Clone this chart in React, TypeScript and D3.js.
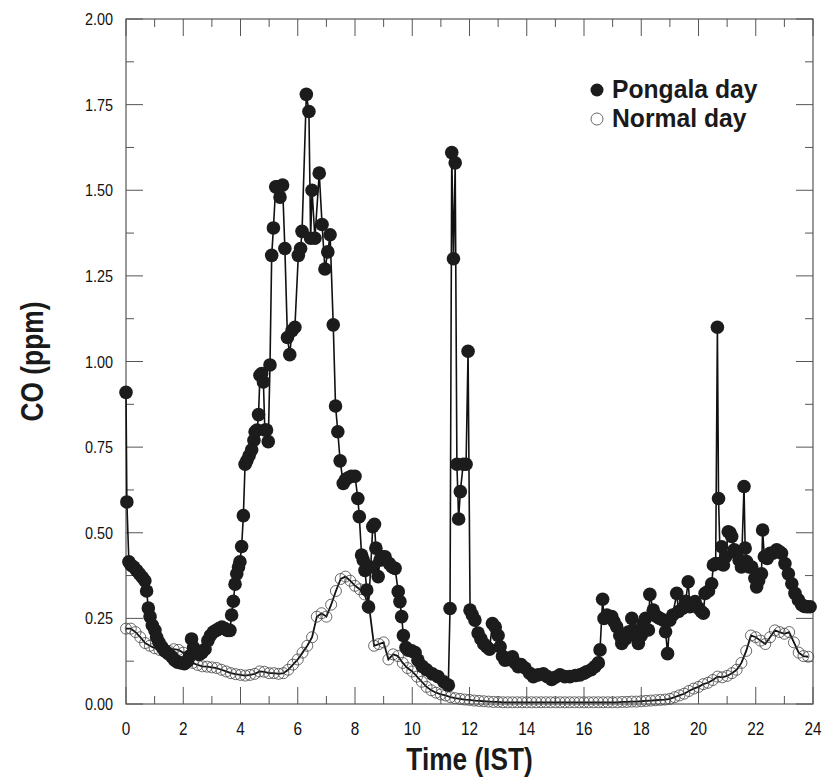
import React from 'react';
import * as d3 from 'd3';

// Pongala day: time (h) and CO (ppm)
const pongalaTime = [
  0.0, 0.03, 0.1, 0.18, 0.27, 0.37, 0.47, 0.57, 0.66, 0.72, 0.78, 0.84, 0.92, 1.01, 1.07, 1.15, 1.25, 1.36, 1.48, 1.6,
  1.7, 1.8, 1.92, 2.04, 2.15, 2.22, 2.29, 2.36, 2.45, 2.55, 2.65, 2.76, 2.86, 2.95, 3.05, 3.15, 3.25, 3.35, 3.45, 3.55,
  3.63, 3.69, 3.75, 3.81, 3.87, 3.93, 3.98, 4.04, 4.1, 4.16, 4.22, 4.3, 4.39, 4.47, 4.51, 4.58, 4.63, 4.68, 4.74, 4.8,
  4.85, 4.91, 4.97, 5.03, 5.09, 5.15, 5.23, 5.31, 5.38, 5.47, 5.55, 5.64, 5.72, 5.8, 5.9, 6.02, 6.1, 6.15, 6.3, 6.39,
  6.45, 6.5, 6.6, 6.75, 6.85, 6.95, 7.05, 7.13, 7.24, 7.32, 7.4, 7.48, 7.59, 7.67, 7.75, 7.87, 8.0, 8.1, 8.15, 8.23,
  8.29, 8.35, 8.41, 8.47, 8.55, 8.62, 8.68, 8.73, 8.81, 8.87, 8.95, 9.05, 9.2, 9.3, 9.4, 9.51, 9.57, 9.63, 9.69, 9.78,
  9.86, 9.98, 10.1, 10.2, 10.35, 10.5, 10.7, 10.9, 11.1, 11.26, 11.32, 11.38, 11.44, 11.5, 11.56, 11.62, 11.68, 11.78, 11.88, 11.95,
  12.02, 12.1, 12.19, 12.3, 12.4, 12.5, 12.6, 12.7, 12.8, 12.9, 13.0, 13.07, 13.15, 13.24, 13.35, 13.5, 13.6, 13.7, 13.8, 13.94,
  14.1, 14.23, 14.4, 14.58, 14.72, 14.87, 15.0, 15.16, 15.33, 15.51, 15.7, 15.86, 16.0, 16.09, 16.25, 16.38, 16.5, 16.56, 16.65, 16.7,
  16.8, 16.97, 17.05, 17.14, 17.25, 17.32, 17.45, 17.55, 17.67, 17.72, 17.82, 17.9, 18.0, 18.07, 18.15, 18.25, 18.3, 18.42, 18.55, 18.65,
  18.77, 18.85, 18.92, 19.0, 19.1, 19.24, 19.3, 19.45, 19.55, 19.64, 19.7, 19.8, 19.88, 20.0, 20.1, 20.17, 20.23, 20.35, 20.46, 20.52,
  20.6, 20.66, 20.7, 20.76, 20.81, 20.87, 20.95, 21.04, 21.1, 21.16, 21.25, 21.33, 21.42, 21.5, 21.59, 21.63, 21.68, 21.77, 21.86, 21.97,
  22.03, 22.1, 22.2, 22.24, 22.3, 22.4, 22.5, 22.6, 22.73, 22.82, 22.9, 23.02, 23.14, 23.26, 23.37, 23.49, 23.6, 23.7, 23.8, 23.9,
];
const pongalaCO = [
  0.91, 0.59, 0.415, 0.405, 0.4, 0.39, 0.38, 0.37, 0.36, 0.33, 0.28, 0.255, 0.23, 0.215, 0.195, 0.18, 0.167, 0.155, 0.147, 0.138,
  0.128, 0.122, 0.12, 0.118, 0.125, 0.14, 0.19, 0.165, 0.15, 0.145, 0.15, 0.16, 0.185, 0.2, 0.21, 0.215, 0.22, 0.225, 0.22, 0.215,
  0.215, 0.26, 0.3, 0.35, 0.38, 0.4, 0.415, 0.46, 0.55, 0.7, 0.71, 0.725, 0.742, 0.77, 0.795, 0.8, 0.845, 0.96, 0.965, 0.94,
  0.8, 0.8, 0.766, 0.99, 1.31, 1.39, 1.51, 1.51, 1.48, 1.515, 1.33, 1.07, 1.02, 1.09, 1.1, 1.31, 1.33, 1.38, 1.78, 1.73,
  1.36, 1.5, 1.36, 1.55, 1.4, 1.27, 1.32, 1.37, 1.107, 0.87, 0.795, 0.71, 0.644, 0.655, 0.66, 0.665, 0.665, 0.6, 0.547, 0.435,
  0.42, 0.39, 0.333, 0.284, 0.4, 0.518, 0.525, 0.455, 0.372, 0.42, 0.43, 0.43, 0.41, 0.4, 0.396, 0.328, 0.299, 0.255, 0.2, 0.165,
  0.157, 0.155, 0.15, 0.128, 0.11, 0.1, 0.088, 0.08, 0.065, 0.055, 0.279, 1.61, 1.3, 1.58, 0.7, 0.54, 0.62, 0.7, 0.7, 1.03,
  0.274, 0.26, 0.245, 0.207, 0.19, 0.175, 0.167, 0.16, 0.235, 0.225, 0.2, 0.167, 0.14, 0.128, 0.13, 0.138, 0.12, 0.109, 0.115, 0.105,
  0.09, 0.08, 0.085, 0.088, 0.08, 0.072, 0.078, 0.085, 0.08, 0.08, 0.083, 0.085, 0.09, 0.094, 0.1, 0.109, 0.12, 0.158, 0.306, 0.25,
  0.26, 0.255, 0.24, 0.226, 0.2, 0.177, 0.19, 0.21, 0.25, 0.216, 0.2, 0.177, 0.2, 0.235, 0.25, 0.216, 0.32, 0.274, 0.255, 0.25,
  0.245, 0.211, 0.147, 0.245, 0.26, 0.323, 0.27, 0.28, 0.3, 0.357, 0.284, 0.29, 0.299, 0.28, 0.27, 0.265, 0.323, 0.33, 0.351, 0.406,
  0.41, 1.1, 0.6, 0.41, 0.459, 0.406, 0.43, 0.503, 0.5, 0.489, 0.45, 0.44, 0.42, 0.4, 0.635, 0.455, 0.416, 0.4, 0.4, 0.367,
  0.342, 0.36, 0.38, 0.508, 0.43, 0.425, 0.44, 0.44, 0.45, 0.445, 0.44, 0.41, 0.38, 0.351, 0.323, 0.304, 0.29, 0.285, 0.284, 0.284,
];

// Normal day: 10-minute values from 00:00
const normalStepMinutes = 10;
const normalCO = [
  0.22, 0.22, 0.21, 0.195, 0.178, 0.17, 0.163, 0.158, 0.153, 0.155, 0.16, 0.158, 0.15, 0.135, 0.12, 0.114, 0.11, 0.109, 0.107, 0.105,
  0.1, 0.095, 0.09, 0.087, 0.085, 0.083, 0.085, 0.088, 0.095, 0.094, 0.09, 0.09, 0.088, 0.09, 0.1, 0.115, 0.13, 0.15, 0.17, 0.195,
  0.255, 0.265, 0.255, 0.29, 0.33, 0.365, 0.372, 0.36, 0.345, 0.335, 0.32, 0.28, 0.17, 0.175, 0.18, 0.13, 0.145, 0.14, 0.12, 0.105,
  0.095, 0.08, 0.065, 0.05, 0.04, 0.033, 0.028, 0.025, 0.02, 0.017, 0.015, 0.013, 0.012,
  0.01, 0.009, 0.008, 0.007, 0.006, 0.006, 0.005, 0.005, 0.005, 0.005,
  0.005, 0.005, 0.005, 0.005, 0.005, 0.005, 0.005, 0.005, 0.005, 0.005,
  0.005, 0.005, 0.005, 0.005, 0.005, 0.005, 0.005, 0.005, 0.005, 0.005,
  0.005, 0.006, 0.006, 0.007, 0.007, 0.008, 0.009, 0.01, 0.011, 0.012,
  0.013,
  0.015, 0.02, 0.025, 0.03, 0.038, 0.045, 0.05, 0.058, 0.062, 0.07,
  0.08, 0.078, 0.082, 0.09, 0.1, 0.12, 0.155, 0.2, 0.195, 0.185,
  0.175, 0.195, 0.215, 0.21, 0.205, 0.21, 0.18, 0.15, 0.14, 0.138,
];

const xMajorTicks = [0, 2, 4, 6, 8, 10, 12, 14, 16, 18, 20, 22, 24];
const xMinorTicks = [1, 3, 5, 7, 9, 11, 13, 15, 17, 19, 21, 23];
const yMajorTicks = [0, 0.25, 0.5, 0.75, 1.0, 1.25, 1.5, 1.75, 2.0];
const yMinorTicks = [0.125, 0.375, 0.625, 0.875, 1.125, 1.375, 1.625, 1.875];
const seriesNames = ['Pongala day', 'Normal day'];

const W = 827;
const H = 778;
const L = 126, R = 813, T = 19, B = 704;
const FONT = "'Liberation Sans', Arial, sans-serif";

export default function App() {
  const x = d3.scaleLinear().domain([0, 24]).range([L, R]);
  const y = d3.scaleLinear().domain([0, 2]).range([B, T]);

  const pData = pongalaTime.map((t, i) => [t, pongalaCO[i]] as [number, number]);
  const nData = normalCO.map((v, i) => [(i * normalStepMinutes) / 60, v] as [number, number]);
  const line = d3.line<[number, number]>().x(d => x(d[0])).y(d => y(d[1]));

  const axisColor = '#555';
  const majorLen = 17, minorLen = 8;

  return (
    <svg width={W} height={H} style={{ position: 'absolute', left: 0, top: 0, background: '#fff' }}>
      <rect x={0} y={0} width={W} height={H} fill="#fff" />
      {/* frame */}
      <rect x={L} y={T} width={R - L} height={B - T} fill="none" stroke={axisColor} strokeWidth={1.2} />
      {/* x ticks bottom/top */}
      {xMajorTicks.map(t => (
        <g key={'xm' + t}>
          <line x1={x(t)} x2={x(t)} y1={B} y2={B - majorLen} stroke={axisColor} strokeWidth={1} />
          <line x1={x(t)} x2={x(t)} y1={T} y2={T + majorLen} stroke={axisColor} strokeWidth={1} />
          <text transform={`translate(${x(t)},735) scale(0.85,1)`} textAnchor="middle" fontFamily={FONT} fontSize={18} fill="#111">{t}</text>
        </g>
      ))}
      {xMinorTicks.map(t => (
        <g key={'xn' + t}>
          <line x1={x(t)} x2={x(t)} y1={B} y2={B - minorLen} stroke={axisColor} strokeWidth={1} />
          <line x1={x(t)} x2={x(t)} y1={T} y2={T + minorLen} stroke={axisColor} strokeWidth={1} />
        </g>
      ))}
      {/* y ticks left/right */}
      {yMajorTicks.map(t => (
        <g key={'ym' + t}>
          <line x1={L} x2={L + majorLen} y1={y(t)} y2={y(t)} stroke={axisColor} strokeWidth={1} />
          <line x1={R} x2={R - majorLen} y1={y(t)} y2={y(t)} stroke={axisColor} strokeWidth={1} />
          <text transform={`translate(113,${y(t) + 6}) scale(0.85,1)`} textAnchor="end" fontFamily={FONT} fontSize={17} fill="#111">{t.toFixed(2)}</text>
        </g>
      ))}
      {yMinorTicks.map(t => (
        <g key={'yn' + t}>
          <line x1={L} x2={L + minorLen} y1={y(t)} y2={y(t)} stroke={axisColor} strokeWidth={1} />
          <line x1={R} x2={R - minorLen} y1={y(t)} y2={y(t)} stroke={axisColor} strokeWidth={1} />
        </g>
      ))}

      {/* Normal day */}
      <path d={line(nData) || ''} fill="none" stroke="#111" strokeWidth={1.8} />
      {nData.map((d, i) => (
        <circle key={'n' + i} cx={x(d[0])} cy={y(d[1])} r={5.5} fill="none" stroke="#444" strokeWidth={0.8} />
      ))}

      {/* Pongala day */}
      <path d={line(pData) || ''} fill="none" stroke="#111" strokeWidth={1.6} />
      {pData.map((d, i) => (
        <circle key={'p' + i} cx={x(d[0])} cy={y(d[1])} r={6.8} fill="#1c1c1c" />
      ))}

      {/* legend */}
      <circle cx={597} cy={90} r={6.5} fill="#1c1c1c" />
      <text transform="translate(612,98) scale(0.95,1)" fontFamily={FONT} fontWeight="bold" fontSize={26} fill="#1a1a1a">{seriesNames[0]}</text>
      <circle cx={597} cy={119} r={6} fill="none" stroke="#444" strokeWidth={0.8} />
      <text transform="translate(612,127) scale(0.95,1)" fontFamily={FONT} fontWeight="bold" fontSize={26} fill="#1a1a1a">{seriesNames[1]}</text>

      {/* axis titles */}
      <text transform={`translate(${(L + R) / 2},770) scale(0.82,1)`} textAnchor="middle" fontFamily={FONT} fontWeight="bold" fontSize={32} fill="#1a1a1a">Time (IST)</text>
      <text transform={`translate(43,${(T + B) / 2}) rotate(-90) scale(0.85,1)`} textAnchor="middle" fontFamily={FONT} fontWeight="bold" fontSize={31} fill="#1a1a1a">CO (ppm)</text>
    </svg>
  );
}
